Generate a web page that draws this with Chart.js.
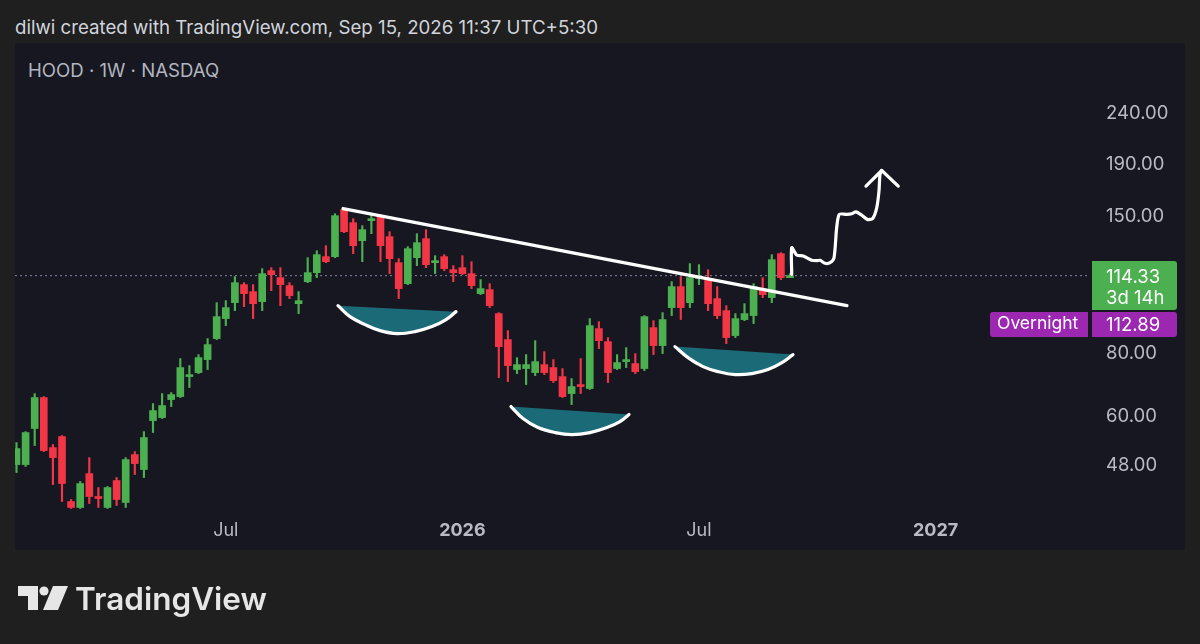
<!DOCTYPE html>
<html><head><meta charset="utf-8">
<script src="https://cdn.jsdelivr.net/npm/chart.js@4.4.1/dist/chart.umd.min.js"></script>
<style>
html,body{margin:0;padding:0;background:#1f1f1f;width:1200px;height:644px;overflow:hidden;font-family:Inter,Roboto,sans-serif;}
#title{position:absolute;left:15px;top:15px;font-size:18.7px;color:#d1d4dc;line-height:26px;white-space:nowrap;}
#panel{position:absolute;left:15px;top:43px;width:1170px;height:507px;background:#171721;}
#sym{position:absolute;left:28px;top:58px;font-size:18.6px;color:#b2b5be;line-height:24px;white-space:nowrap;}
canvas{position:absolute;left:0;top:0;}
#logo{position:absolute;left:18px;top:581px;height:34px;display:flex;align-items:center;}
#logo span{font-size:31.5px;font-weight:600;color:#e6e6e6;margin-left:7px;letter-spacing:0px;}
</style></head>
<body>
<div id="title">dilwi created with TradingView.com, Sep 15, 2026 11:37 UTC+5:30</div>
<div id="panel"></div>
<div id="sym">HOOD · 1W · NASDAQ</div>
<canvas id="c" width="1200" height="644"></canvas>
<div id="logo"><svg width="50" height="26" viewBox="0 0 50 26"><path d="M0 1h20v24h-10v-14h-10z" fill="#e6e6e6"/><circle cx="26" cy="6" r="4.6" fill="#e6e6e6"/><path d="M35 1h15l-10 24h-15z" fill="#e6e6e6"/></svg><span>TradingView</span></div>
<script>
// Weekly HOOD candles, week index 0 = week of 2025-01-27 ... 85 = week of 2026-09-14
const opens = [48.22,48.22,56.85,65.50,52.12,54.81,40.73,39.64,46.28,41.68,39.64,44.83,40.55,50.47,47.14,58.96,59.78,64.90,65.80,72.08,73.41,77.91,85.75,93.95,101.06,109.73,106.27,101.53,116.97,113.30,109.23,100.60,111.24,115.91,124.70,124.70,154.55,145.64,134.14,146.97,150.38,136.62,121.32,110.23,124.13,135.39,121.32,124.70,117.51,118.59,115.38,105.31,107.26,96.12,85.36,74.44,74.78,73.41,76.15,75.12,72.08,66.70,69.50,68.25,89.76,84.57,74.78,77.20,76.50,74.78,90.17,83.05,98.79,108.74,101.06,112.78,112.27,102.94,97.44,86.93,93.53,95.25,107.75,103.41,126.41,113.30];
const highs = [53.32,56.07,66.70,65.80,52.84,55.06,41.11,44.63,49.79,43.42,43.62,45.45,49.79,51.17,56.07,63.72,66.70,67.01,78.27,75.80,79.70,85.75,101.06,101.99,113.82,110.74,109.73,118.05,118.59,118.59,110.74,106.27,124.13,128.15,131.12,151.75,155.26,148.34,143.66,151.75,151.06,139.77,123.56,130.52,138.50,141.07,125.26,125.84,119.67,125.26,121.87,112.27,110.23,96.56,88.93,78.62,79.70,84.96,80.80,77.91,74.78,71.43,78.27,93.95,92.67,86.14,79.70,82.29,80.07,95.25,93.09,96.56,111.24,113.82,120.77,120.22,117.51,108.74,99.69,96.12,100.60,110.23,113.30,125.84,126.99,115.38];
const lows = [46.49,47.79,52.60,51.17,44.02,40.73,39.46,39.46,40.36,39.64,39.46,40.00,39.64,46.07,45.45,55.82,59.51,62.86,65.50,68.56,73.07,74.44,85.36,90.99,97.44,99.24,93.95,97.44,106.76,99.69,102.94,96.12,110.74,113.30,121.32,124.13,139.14,126.41,121.87,138.50,121.87,115.38,102.94,109.73,119.67,118.59,115.38,116.97,111.24,114.86,107.75,104.83,98.79,71.76,70.46,73.07,69.50,72.41,72.74,70.14,65.50,63.43,66.70,67.94,81.92,70.14,74.44,75.12,73.07,74.08,79.70,80.07,95.25,93.53,98.79,109.73,97.44,93.95,83.81,86.14,93.09,91.83,103.41,101.06,112.27,113.30];
const closes = [51.88,55.82,65.50,51.40,49.79,44.22,39.64,44.22,41.68,41.30,43.42,41.11,49.34,48.44,54.56,61.72,63.15,66.40,75.12,72.74,78.62,83.43,94.81,98.79,110.74,105.31,100.60,115.38,114.86,109.73,104.36,101.99,115.91,125.84,121.87,150.38,139.77,131.12,141.07,148.34,131.12,123.56,107.75,129.34,132.92,120.22,122.43,118.05,115.91,115.38,109.23,107.75,99.69,82.67,75.80,76.15,76.15,77.20,73.41,70.78,65.80,68.87,68.87,90.99,84.96,73.41,76.85,77.91,73.74,94.81,83.05,93.53,108.74,98.79,113.30,113.82,100.60,95.25,86.14,93.95,96.12,108.74,104.83,123.00,113.30,114.33];

const lastPrice = 114.33;
const lastPriceLabel = '114.33';
const countdownLabel = '3d 14h';
const overnightPrice = '112.89';
const overnightLabel = 'Overnight';

const priceTicks = [48, 60, 80, 150, 190, 240];
const timeTickWeeks = [23, 49, 75, 101];
const timeTickLabels = ['Jul', '2026', 'Jul', '2027'];
const boldTimeTicks = [49, 101];

// Drawings, in [week index, price]
const trendLine = [[35.88,155.26],[91.26,99.69]];
const cupLeft = [[35.33,99.69],[36.65,94.81],[38.30,91.41],[39.95,88.93],[41.81,87.72],[43.79,88.53],[45.66,90.58],[47.20,93.53],[48.30,97.00]];
const cupMiddle = [[54.34,62.86],[55.66,59.51],[57.31,57.11],[59.18,55.82],[61.04,55.31],[63.02,55.82],[64.89,57.11],[66.32,58.69],[67.31,60.61]];
const cupRight = [[72.36,82.67],[73.79,78.62],[75.44,75.46],[77.09,73.74],[78.96,72.74],[80.82,73.07],[82.58,74.44],[84.12,76.85],[85.33,79.70]];
const freehand = [[85.19,115.05],[85.19,129.88],[85.74,125.63],[86.46,125.05],[87.38,122.63],[87.93,122.43],[88.30,122.63],[88.85,120.97],[89.40,121.30],[89.84,124.09],[90.13,142.29],[90.42,151.25],[91.23,151.25],[91.78,151.66],[92.25,153.05],[92.88,150.77],[93.49,147.84],[94.09,148.52],[94.53,155.87],[94.78,168.21],[94.89,181.51],[95.08,184.85]];
const arrowHead = [[93.35,172.09],[95.08,184.85],[96.90,172.09]];

const xMin = -0.165, xMax = 117.64;
const yMin = 38.3, yMax = 331;

const UP = '#4caf50', DOWN = '#f23645';
const colors = opens.map((o, i) => closes[i] >= o ? UP : DOWN);
const toPts = arr => arr.map(([x, y]) => ({x, y}));

const drawLine = (data, extra) => Object.assign({
  type: 'line', data: toPts(data), borderColor: '#ffffff', borderWidth: 3.2,
  pointRadius: 0, borderCapStyle: 'round', borderJoinStyle: 'round', fill: false, tension: 0, order: 1
}, extra || {});

const priceTags = {
  id: 'priceTags',
  afterDatasetsDraw(chart) {
    const {ctx, scales: {y}, chartArea} = chart;
    const py = Math.round(y.getPixelForValue(lastPrice));
    const bx = chartArea.right + 5, bw = 85;
    ctx.save();
    ctx.fillStyle = UP;
    ctx.beginPath();
    ctx.roundRect(bx, py - 15, bw, 49, [0, 3, 3, 0]);
    ctx.fill();
    ctx.fillStyle = '#9c27b0';
    ctx.beginPath();
    ctx.roundRect(bx, py + 36, bw, 25, [0, 3, 3, 0]);
    ctx.fill();
    ctx.beginPath();
    ctx.roundRect(chartArea.right - 97, py + 36, 98, 25, [3, 0, 0, 3]);
    ctx.fill();
    ctx.fillStyle = '#ffffff';
    ctx.font = '18.5px Inter';
    ctx.textBaseline = 'middle';
    ctx.textAlign = 'left';
    ctx.fillText(lastPriceLabel, chartArea.right + 19, py + 1);
    ctx.fillText(countdownLabel, chartArea.right + 19, py + 22);
    ctx.fillText(overnightPrice, chartArea.right + 19, py + 49);
    ctx.font = '17.5px Inter';
    ctx.fillText(overnightLabel, chartArea.right - 90, py + 48);
    ctx.restore();
  }
};

new Chart(document.getElementById('c'), {
  type: 'bar',
  data: {
    datasets: [
      { type: 'line', data: [{x: xMin, y: lastPrice}, {x: xMax, y: lastPrice}], borderColor: 'rgba(150,150,180,0.85)', borderWidth: 1, borderDash: [2, 3], pointRadius: 0, order: 10 },
      { type: 'bar', data: opens.map((o, i) => ({x: i, y: [lows[i], highs[i]]})), backgroundColor: colors, barThickness: 1.5, grouped: false, order: 6 },
      { type: 'bar', data: opens.map((o, i) => ({x: i, y: [o, closes[i]]})), backgroundColor: colors, barThickness: 7, minBarLength: 2, grouped: false, order: 5 },
      drawLine(trendLine),
      drawLine(cupLeft, {fill: 'shape', backgroundColor: '#1b6a78', tension: 0.4, order: 2}),
      drawLine(cupMiddle, {fill: 'shape', backgroundColor: '#1b6a78', tension: 0.4, order: 2}),
      drawLine(cupRight, {fill: 'shape', backgroundColor: '#1b6a78', tension: 0.4, order: 2}),
      drawLine(freehand, {tension: 0.25}),
      drawLine(arrowHead)
    ]
  },
  options: {
    responsive: false, animation: false, devicePixelRatio: 1,
    layout: {padding: {left: 15, right: 13, top: 43, bottom: 94}},
    plugins: {legend: {display: false}, tooltip: {enabled: false}},
    scales: {
      x: {
        type: 'linear', min: xMin, max: xMax, offset: false, bounds: 'data',
        grid: {display: false, drawTicks: false}, border: {display: false},
        afterBuildTicks: s => { s.ticks = timeTickWeeks.map(v => ({value: v})); },
        afterFit: s => { s.height = 35; },
        ticks: {
          autoSkip: false, maxRotation: 0, padding: 5, color: '#b8bbc4',
          font: c => ({family: 'Inter', size: 18, lineHeight: 1.2, weight: (c.tick && boldTimeTicks.includes(c.tick.value)) ? '700' : '400'}),
          callback: v => timeTickLabels[timeTickWeeks.indexOf(v)]
        }
      },
      y: {
        type: 'logarithmic', position: 'right', min: yMin, max: yMax, bounds: 'data',
        grid: {display: false, drawTicks: false}, border: {display: false},
        afterBuildTicks: s => { s.ticks = priceTicks.map(v => ({value: v})); },
        afterFit: s => { s.width = 100; },
        ticks: {padding: 19, color: '#b8bbc4', font: {family: 'Inter', size: 18.5}, callback: v => Number(v).toFixed(2)}
      }
    }
  },
  plugins: [priceTags]
});
</script>
</body></html>
